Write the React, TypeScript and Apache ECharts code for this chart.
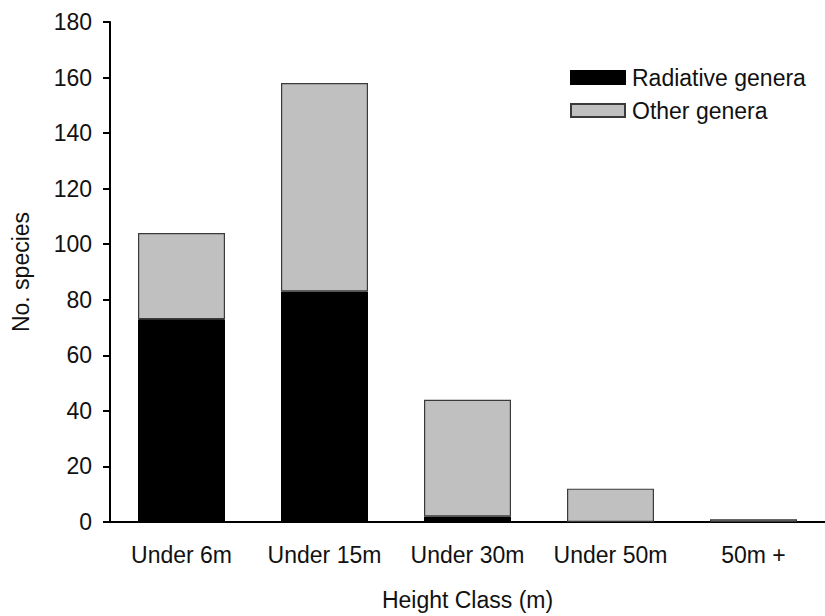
import React, { useEffect, useRef } from "react";
import * as echarts from "echarts";

const categories = ["Under 6m", "Under 15m", "Under 30m", "Under 50m", "50m +"];
const radiative = [73, 83, 2, 0, 0];
const other = [31, 75, 42, 12, 1];
const yTicks = { min: 0, max: 180, interval: 20 };

const FONT = "'Liberation Sans', Arial, Helvetica, sans-serif";
const FS = 23;

export default function App() {
  const ref = useRef<HTMLDivElement>(null);
  useEffect(() => {
    if (!ref.current) return;
    const chart = echarts.init(ref.current, undefined, { renderer: "svg" });
    chart.setOption({
      animation: false,
      backgroundColor: "#ffffff",
      textStyle: { fontFamily: FONT },
      grid: { left: 110, right: -8, top: 22, bottom: 88, containLabel: false },
      legend: {
        orient: "vertical",
        left: 565,
        top: 61,
        itemWidth: 54,
        itemHeight: 13,
        itemGap: 10,
        icon: "rect",
        textStyle: { fontFamily: FONT, fontSize: FS, color: "#111", lineHeight: 23, padding: [0, 0, 0, 2] },
        data: ["Radiative genera", "Other genera"],
      },
      xAxis: {
        type: "category",
        data: categories,
        name: "Height Class (m)",
        nameLocation: "middle",
        nameGap: 66,
        nameTextStyle: { fontFamily: FONT, fontSize: FS, color: "#111" },
        axisLine: { lineStyle: { color: "#000", width: 2 } },
        axisTick: { alignWithLabel: true, length: 8, lineStyle: { color: "#000", width: 2 } },
        axisLabel: { interval: 0, hideOverlap: false, fontFamily: FONT, fontSize: FS, color: "#111", margin: 21 },
      },
      yAxis: {
        type: "value",
        min: yTicks.min,
        max: yTicks.max,
        interval: yTicks.interval,
        name: "No. species",
        nameLocation: "middle",
        nameGap: 78,
        nameTextStyle: { fontFamily: FONT, fontSize: FS, color: "#111" },
        splitLine: { show: false },
        axisLine: { show: true, lineStyle: { color: "#000", width: 2 } },
        axisTick: { show: true, length: 7, lineStyle: { color: "#000", width: 2 } },
        axisLabel: { fontFamily: FONT, fontSize: FS, color: "#111", margin: 18 },
      },
      series: [
        {
          name: "Radiative genera",
          type: "bar",
          stack: "total",
          data: radiative,
          barWidth: 87,
          itemStyle: { color: "#000000", borderColor: "#000000", borderWidth: 1 },
        },
        {
          name: "Other genera",
          type: "bar",
          stack: "total",
          data: other,
          barWidth: 87,
          itemStyle: { color: "#c0c0c0", borderColor: "#3a3a3a", borderWidth: 1.2 },
        },
      ],
    });
    return () => chart.dispose();
  }, []);
  return (
    <div
      ref={ref}
      style={{ position: "absolute", left: 0, top: 0, width: 825, height: 616 }}
    />
  );
}
